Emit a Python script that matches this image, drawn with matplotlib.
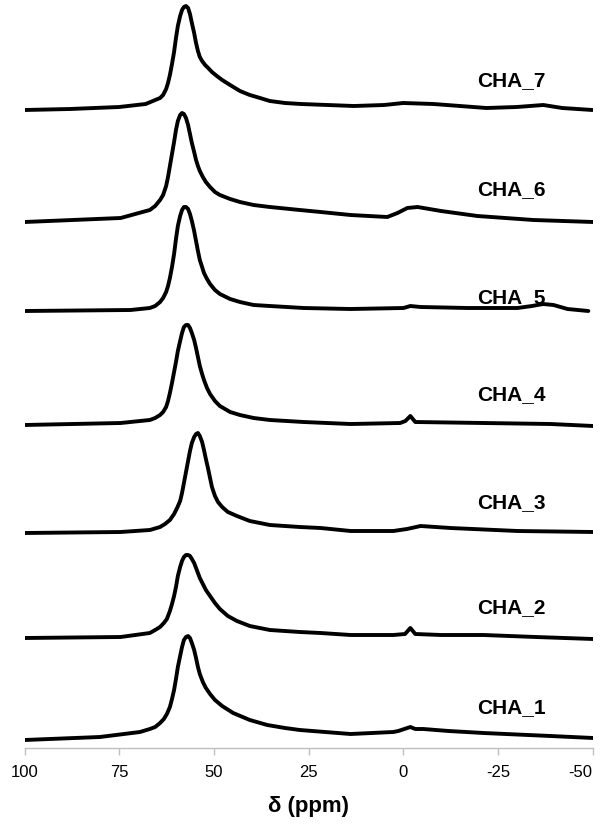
import matplotlib.pyplot as plt
import numpy as np

plt.rcParams['font.family'] = ['Liberation Sans', 'DejaVu Sans']
plt.rcParams['axes.unicode_minus'] = False

# spectra: chemical shift (ppm) and intensity above each baseline
names = ['CHA_1', 'CHA_2', 'CHA_3', 'CHA_4', 'CHA_5', 'CHA_6', 'CHA_7']

ppm_1 = [100, 80.1, 69.5, 66.9, 65.5, 64.2, 63.2, 62.4, 61.6, 61.05, 60.5, 60.0, 59.5, 58.9, 58.4,
         57.9, 57.35, 56.8, 56.3, 55.8, 55.2, 54.7, 54.2, 53.7, 52.9, 52.1, 51.0, 49.7, 47.8, 44.9,
         40.5, 35.9, 31.2, 27.3, 13.9, 2.6, 1.3, -1.9, -3.2, -5.3, -12, -21.2, -38.9, -50.2]
int_1 = [0, 3, 8, 11, 13, 17, 21, 26, 33, 41, 50, 61, 73, 84, 93,
         100, 103, 104, 102, 97, 90, 82, 73, 66, 58, 52, 46, 40, 34, 27,
         20, 15, 12, 10, 6, 8, 9, 13, 11, 11, 9, 7, 4, 2]

ppm_2 = [100, 74.6, 66.9, 65.5, 64.2, 63.2, 62.4, 61.6, 61.05, 60.5, 60.0, 59.5, 58.9, 58.4, 57.9,
         57.35, 56.8, 56.3, 55.8, 55.2, 54.7, 54.2, 53.7, 52.9, 52.1, 51.0, 49.7, 48.4, 46.3, 43.9,
         40.5, 35.2, 27.3, 21.8, 13.9, 2.6, -0.5, -1.9, -3.2, -10, -21.2, -35, -50.2]
int_2 = [0, 1, 5, 8, 11, 15, 19, 27, 34, 42, 51, 62, 71, 77, 81,
         83, 83, 82, 79, 75, 70, 65, 60, 54, 48, 42, 35, 29, 22, 17,
         12, 8, 6, 5, 3, 3, 4, 10, 4, 3, 3, 1, -1]

ppm_3 = [100, 74.6, 66.9, 64.2, 62.9, 61.6, 60.5, 59.7, 58.9, 58.4, 57.9, 57.35, 56.8, 56.3, 55.8,
         55.2, 54.7, 54.2, 53.7, 53.1, 52.6, 52.1, 51.5, 51.0, 50.5, 49.7, 48.9, 47.8, 46.3, 43.9,
         40.5, 35.2, 27.3, 21.8, 13.9, 2.6, -1.0, -4.6, -12.5, -30.2, -50.2]
int_3 = [0, 1, 3, 6, 9, 13, 19, 25, 32, 40, 50, 61, 72, 82, 90,
         96, 99, 100, 97, 91, 83, 74, 64, 55, 46, 37, 31, 26, 21, 17,
         12, 8, 6, 5, 2, 2, 4, 7, 5, 2, 1]

ppm_4 = [100, 74.6, 66.9, 65.5, 64.2, 63.4, 62.6, 62.1, 61.6, 61.05, 60.5, 60.0, 59.5, 58.9, 58.4,
         57.9, 57.35, 56.8, 56.3, 55.8, 55.2, 54.7, 54.2, 53.7, 53.1, 52.6, 51.8, 51.0, 49.7, 48.4,
         45.7, 43.1, 39.5, 35.2, 26.3, 13.9, 0.8, -0.6, -1.9, -3.2, -21.2, -38.9, -50.2]
int_4 = [0, 2, 5, 7, 10, 13, 18, 24, 32, 42, 53, 63, 74, 84, 92,
         98, 100, 100, 97, 92, 85, 77, 68, 59, 51, 45, 37, 31, 24, 19,
         13, 10, 7, 5, 3, 1, 2, 4, 9, 3, 2, 1, -1]

ppm_5 = [100, 72.0, 66.9, 65.5, 64.2, 63.4, 62.6, 62.1, 61.6, 61.05, 60.5, 60.0, 59.5, 58.9, 58.4,
         57.9, 57.35, 56.8, 56.3, 55.8, 55.2, 54.7, 54.2, 53.7, 53.1, 52.6, 51.8, 51.0, 49.7, 48.4,
         45.7, 43.1, 39.5, 35.2, 26.3, 13.9, -0.1, -1.9, -4.6, -17.0, -30.2, -34, -37.0, -39.7,
         -43.4, -48.9]
int_5 = [0, 1, 3, 5, 9, 13, 19, 25, 33, 44, 57, 72, 85, 95, 101,
         104, 104, 102, 97, 90, 80, 70, 60, 51, 44, 38, 32, 27, 21, 17,
         12, 9, 6, 5, 3, 2, 3, 5, 4, 3, 3, 5, 7, 6,
         2, 0]

ppm_6 = [100, 74.6, 66.9, 65.5, 64.2, 63.4, 62.6, 62.1, 61.6, 61.05, 60.5, 60.0, 59.5, 58.9, 58.4,
         57.9, 57.35, 56.8, 56.3, 55.8, 55.2, 54.7, 54.2, 53.7, 52.9, 52.1, 51.0, 49.7, 48.4, 45.7,
         43.1, 39.5, 35.2, 27.3, 21.8, 13.9, 4.2, 1.5, -1.1, -3.8, -10, -19.6, -34.4, -50.2]
int_6 = [0, 4, 12, 16, 22, 27, 36, 45, 56, 68, 80, 92, 101, 107, 109,
         108, 104, 97, 88, 79, 70, 62, 56, 51, 45, 40, 35, 30, 27, 23,
         20, 17, 15, 12, 10, 7, 5, 9, 14, 15, 11, 6, 2, 0]

ppm_7 = [100, 88, 75, 68, 64.2, 63.4, 62.6, 62.1, 61.6, 61.05, 60.5, 60.0, 59.5, 58.9, 58.4,
         57.9, 57.35, 56.8, 56.3, 55.8, 55.2, 54.7, 54.2, 53.7, 53.1, 52.3, 51.5, 50.5, 49.2, 47.8,
         45.7, 43.1, 40.5, 37.8, 35.2, 31.2, 27, 20, 13, 5, 0, -8, -15, -22, -30, -37, -42, -50]
int_7 = [0, 1, 3, 6, 12, 15, 21, 27, 35, 46, 58, 72, 84, 94, 100,
         103, 104, 102, 96, 87, 77, 67, 59, 53, 49, 45, 42, 38, 34, 30,
         25, 19, 15, 12, 9, 7, 6, 5, 4, 5, 7, 6, 4, 2, 3, 5, 2, 0]

ppm_all = [ppm_1, ppm_2, ppm_3, ppm_4, ppm_5, ppm_6, ppm_7]
int_all = [int_1, int_2, int_3, int_4, int_5, int_6, int_7]

# vertical stacking of the traces
offsets = [8, 110, 215, 323, 437, 526, 638]
label_y = [40, 140, 245, 353, 450, 558, 667]

fig = plt.figure(figsize=(6.02, 8.26), dpi=100)
ax = fig.add_axes([24.5 / 602, 78 / 826, 568 / 602, 748 / 826])

for name, x, y, off, ly in zip(names, ppm_all, int_all, offsets, label_y):
    ax.plot(x, np.array(y) + off, color='black', lw=2.8, solid_joinstyle='round',
            solid_capstyle='round')
    ax.text(-19.5, ly, name, fontsize=15, fontweight='bold', va='center', ha='left')

ax.set_xlim(100, -50)
ax.set_ylim(0, 748)
ax.set_xticks([100, 75, 50, 25, 0, -25, -50])
ax.set_yticks([])
for s in ['top', 'right', 'left']:
    ax.spines[s].set_visible(False)
ax.spines['bottom'].set_color('#bfbfbf')
ax.spines['bottom'].set_linewidth(1.0)
ax.tick_params(axis='x', colors='#bfbfbf', length=5, width=1.0, pad=7, labelsize=12,
               labelcolor='black')
ax.get_xticklabels()[-1].set_ha('right')
ax.get_xticklabels()[-1].set_x(-50)
ax.set_xlabel('δ (ppm)', fontsize=16, fontweight='bold', labelpad=12)

fig.savefig('out.png', dpi=100)
